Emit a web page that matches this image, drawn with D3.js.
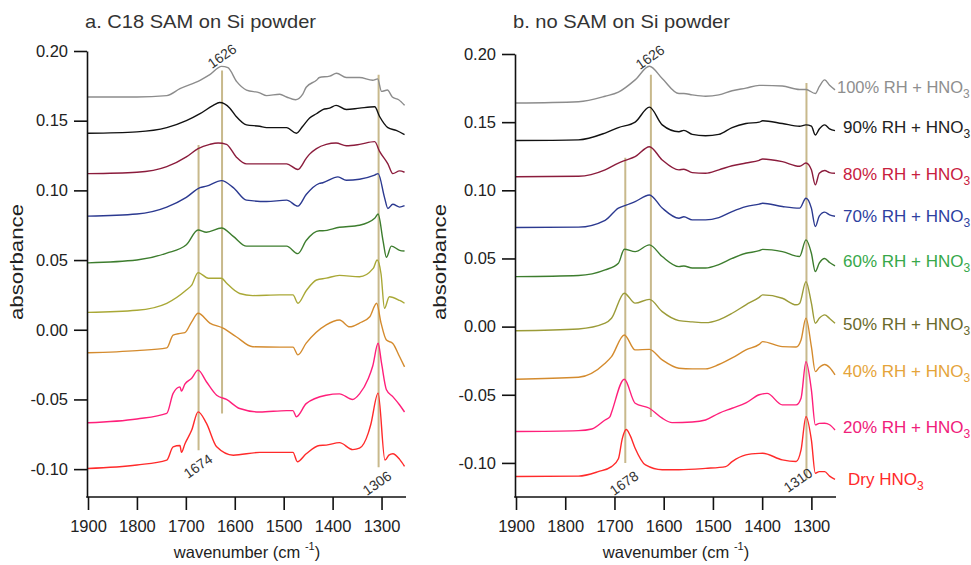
<!DOCTYPE html>
<html><head><meta charset="utf-8">
<script src="https://cdn.jsdelivr.net/npm/d3@7"></script>
<style>body{margin:0;background:#fff}svg text{font-family:"Liberation Sans",Arial,sans-serif}</style>
</head><body><svg id="chart" width="971" height="565"></svg>
<script>
// ---------- data ----------
const xTicks = [1900, 1800, 1700, 1600, 1500, 1400, 1300];
const yTicks = [-0.10, -0.05, 0, 0.05, 0.10, 0.15, 0.20];
const yTickLabels = ["-0.10", "-0.05", "0.00", "0.05", "0.10", "0.15", "0.20"];
const seriesLabels = ["100% RH + HNO", "90% RH + HNO", "80% RH + HNO", "70% RH + HNO", "60% RH + HNO", "50% RH + HNO", "40% RH + HNO", "20% RH + HNO", "Dry HNO"];

// panel a: C18 SAM on Si powder  [wavenumber, absorbance]
const a100 = [[1900,0.167],[1800,0.167],[1739,0.168],[1712,0.173],[1671,0.179],[1651,0.183],[1627,0.189],[1614,0.188],[1596,0.178],[1576,0.172],[1549,0.170],[1535,0.168],[1508,0.169],[1494,0.167],[1476,0.165],[1461,0.169],[1454,0.174],[1433,0.179],[1427,0.181],[1406,0.182],[1392,0.184],[1372,0.181],[1345,0.181],[1318,0.179],[1308,0.180],[1300,0.171],[1288,0.172],[1278,0.167],[1265,0.165],[1253,0.161]];
const a90 = [[1900,0.141],[1800,0.142],[1739,0.145],[1699,0.150],[1671,0.155],[1644,0.161],[1631,0.163],[1610,0.159],[1597,0.153],[1576,0.147],[1549,0.146],[1535,0.145],[1508,0.145],[1494,0.145],[1474,0.141],[1461,0.146],[1447,0.152],[1433,0.155],[1420,0.158],[1406,0.159],[1393,0.161],[1372,0.158],[1345,0.159],[1314,0.160],[1304,0.153],[1287,0.145],[1270,0.143],[1253,0.140]];
const a80 = [[1900,0.112],[1800,0.113],[1739,0.117],[1699,0.124],[1675,0.130],[1651,0.133],[1634,0.134],[1617,0.133],[1597,0.124],[1576,0.119],[1535,0.119],[1494,0.119],[1471,0.115],[1454,0.123],[1447,0.126],[1433,0.130],[1413,0.133],[1393,0.134],[1372,0.132],[1345,0.133],[1314,0.135],[1304,0.128],[1287,0.119],[1277,0.112],[1263,0.114],[1253,0.113]];
const a70 = [[1900,0.0815],[1800,0.083],[1739,0.088],[1699,0.095],[1671,0.102],[1658,0.103],[1627,0.107],[1603,0.102],[1576,0.093],[1535,0.092],[1494,0.093],[1471,0.0887],[1454,0.097],[1427,0.105],[1420,0.1055],[1389,0.1097],[1372,0.1073],[1345,0.108],[1314,0.111],[1307,0.112],[1294,0.095],[1287,0.087],[1277,0.090],[1263,0.088],[1253,0.089]];
const a60 = [[1900,0.048],[1800,0.050],[1739,0.055],[1699,0.061],[1675,0.0716],[1658,0.070],[1627,0.073],[1603,0.067],[1576,0.060],[1535,0.060],[1494,0.060],[1471,0.0546],[1454,0.064],[1427,0.071],[1420,0.071],[1386,0.0735],[1345,0.075],[1314,0.080],[1307,0.083],[1297,0.064],[1290,0.052],[1280,0.060],[1263,0.057],[1253,0.0565]];
const a50 = [[1900,0.0125],[1800,0.014],[1739,0.019],[1699,0.0285],[1688,0.032],[1675,0.041],[1654,0.037],[1627,0.037],[1617,0.0335],[1590,0.026],[1563,0.0245],[1508,0.025],[1481,0.025],[1471,0.019],[1454,0.028],[1433,0.0357],[1413,0.037],[1386,0.039],[1345,0.038],[1317,0.044],[1309,0.050],[1301,0.040],[1294,0.0154],[1284,0.0237],[1263,0.021],[1253,0.019]];
const a40 = [[1900,-0.0165],[1800,-0.015],[1739,-0.013],[1726,-0.0038],[1712,-0.0026],[1702,-0.002],[1688,0.0057],[1675,0.0118],[1651,0.0048],[1624,0.0012],[1597,-0.005],[1563,-0.0122],[1508,-0.0125],[1481,-0.0125],[1471,-0.018],[1454,-0.0096],[1413,0.0035],[1386,0.007],[1365,0.0021],[1345,0.0048],[1324,0.0093],[1310,0.019],[1301,0.0048],[1290,-0.0074],[1277,-0.0098],[1263,-0.0194],[1253,-0.0266]];
const a20 = [[1900,-0.0667],[1800,-0.064],[1739,-0.060],[1726,-0.0457],[1712,-0.041],[1709,-0.044],[1702,-0.039],[1688,-0.0348],[1675,-0.029],[1658,-0.0373],[1637,-0.047],[1617,-0.050],[1590,-0.0565],[1549,-0.059],[1494,-0.058],[1481,-0.058],[1474,-0.0624],[1454,-0.053],[1413,-0.047],[1386,-0.046],[1359,-0.050],[1345,-0.046],[1327,-0.035],[1318,-0.026],[1307,-0.0097],[1300,-0.024],[1290,-0.043],[1277,-0.048],[1263,-0.054],[1253,-0.059]];
const aDry = [[1900,-0.0995],[1800,-0.097],[1739,-0.0935],[1726,-0.084],[1712,-0.083],[1709,-0.088],[1702,-0.082],[1688,-0.072],[1675,-0.0589],[1658,-0.067],[1637,-0.084],[1603,-0.090],[1549,-0.088],[1494,-0.088],[1481,-0.088],[1472,-0.0947],[1454,-0.089],[1427,-0.083],[1413,-0.0828],[1386,-0.081],[1359,-0.086],[1345,-0.085],[1327,-0.074],[1322,-0.068],[1307,-0.0455],[1293,-0.0935],[1285,-0.090],[1277,-0.089],[1263,-0.093],[1253,-0.098]];

// panel b: no SAM on Si powder
const b100 = [[1900,0.164],[1773,0.165],[1719,0.169],[1692,0.172],[1658,0.181],[1629,0.191],[1603,0.182],[1569,0.171],[1559,0.171],[1542,0.170],[1515,0.169],[1488,0.170],[1461,0.173],[1433,0.175],[1406,0.177],[1399,0.177],[1359,0.1765],[1324,0.174],[1311,0.174],[1292,0.171],[1284,0.176],[1273,0.181],[1263,0.177],[1252,0.1737]];
const b90 = [[1900,0.1365],[1773,0.137],[1719,0.142],[1692,0.146],[1658,0.150],[1629,0.161],[1603,0.148],[1569,0.143],[1559,0.144],[1542,0.141],[1515,0.140],[1488,0.141],[1461,0.146],[1433,0.149],[1406,0.150],[1399,0.151],[1359,0.149],[1324,0.147],[1311,0.148],[1300,0.147],[1292,0.1406],[1284,0.145],[1273,0.148],[1263,0.145],[1252,0.1438]];
const b80 = [[1900,0.110],[1773,0.1103],[1719,0.115],[1692,0.120],[1678,0.122],[1658,0.1247],[1629,0.132],[1603,0.1223],[1569,0.115],[1559,0.1155],[1542,0.113],[1515,0.1125],[1488,0.115],[1461,0.118],[1433,0.120],[1406,0.122],[1399,0.123],[1359,0.121],[1324,0.1176],[1311,0.120],[1300,0.115],[1292,0.104],[1284,0.1125],[1273,0.1145],[1263,0.113],[1252,0.1125]];
const b70 = [[1900,0.0727],[1773,0.073],[1719,0.078],[1692,0.0869],[1675,0.0893],[1658,0.0917],[1629,0.0966],[1603,0.087],[1569,0.0795],[1559,0.0806],[1542,0.0783],[1515,0.0783],[1488,0.080],[1461,0.0844],[1433,0.088],[1406,0.0899],[1399,0.0905],[1359,0.0881],[1324,0.0869],[1311,0.0942],[1300,0.0869],[1292,0.0734],[1284,0.081],[1273,0.084],[1263,0.082],[1252,0.081]];
const b60 = [[1900,0.0367],[1773,0.0375],[1719,0.0416],[1692,0.0465],[1680,0.0568],[1658,0.055],[1629,0.060],[1603,0.0514],[1569,0.044],[1559,0.0445],[1542,0.043],[1515,0.043],[1488,0.0455],[1461,0.050],[1433,0.0538],[1406,0.0557],[1399,0.0567],[1359,0.055],[1324,0.0514],[1311,0.0636],[1300,0.0538],[1292,0.0404],[1284,0.0465],[1273,0.050],[1263,0.047],[1252,0.0445]];
const b50 = [[1900,-0.003],[1773,-0.0017],[1719,0.0025],[1706,0.0061],[1680,0.0245],[1658,0.0172],[1629,0.020],[1603,0.011],[1569,0.0044],[1542,0.0035],[1515,0.0029],[1488,0.005],[1461,0.0098],[1433,0.016],[1406,0.0215],[1399,0.0233],[1359,0.0208],[1331,0.016],[1324,0.017],[1311,0.033],[1300,0.0172],[1292,0.0025],[1284,0.0061],[1273,0.0086],[1263,0.006],[1252,0.0025]];
const b40 = [[1900,-0.0386],[1773,-0.0372],[1719,-0.0269],[1706,-0.022],[1680,-0.0061],[1658,-0.0171],[1629,-0.0167],[1603,-0.0244],[1569,-0.0305],[1542,-0.031],[1515,-0.031],[1488,-0.0278],[1461,-0.023],[1433,-0.0171],[1406,-0.013],[1399,-0.011],[1359,-0.0147],[1331,-0.015],[1321,-0.0098],[1311,0.0062],[1300,-0.0147],[1292,-0.033],[1284,-0.030],[1273,-0.0278],[1263,-0.030],[1252,-0.0354]];
const b20 = [[1900,-0.077],[1773,-0.0763],[1746,-0.0751],[1719,-0.0685],[1709,-0.066],[1706,-0.063],[1680,-0.0386],[1658,-0.0562],[1629,-0.0599],[1603,-0.0672],[1583,-0.0704],[1542,-0.070],[1515,-0.0685],[1488,-0.0636],[1461,-0.0599],[1433,-0.056],[1406,-0.050],[1390,-0.049],[1359,-0.0574],[1331,-0.0574],[1321,-0.0525],[1311,-0.0257],[1300,-0.0464],[1292,-0.0721],[1284,-0.071],[1273,-0.0709],[1263,-0.072],[1252,-0.0758]];
const bDry = [[1900,-0.110],[1773,-0.1097],[1733,-0.1064],[1706,-0.1027],[1692,-0.097],[1684,-0.082],[1676,-0.0755],[1668,-0.080],[1658,-0.0892],[1637,-0.1015],[1603,-0.105],[1569,-0.105],[1515,-0.104],[1474,-0.1027],[1461,-0.099],[1433,-0.0941],[1406,-0.093],[1399,-0.0929],[1359,-0.0978],[1331,-0.099],[1321,-0.0905],[1311,-0.066],[1300,-0.0831],[1292,-0.1076],[1284,-0.1064],[1273,-0.1064],[1263,-0.1097],[1252,-0.112]];

// marker lines: [wavenumber, top absorbance, bottom absorbance]
const aMarkers = [[1626,0.186,-0.060],[1674,0.1326,-0.0864],[1306,0.183,-0.0986]];
const bMarkers = [[1626,0.1847,-0.0663],[1678,0.1238,-0.100],[1310,0.1788,-0.1125]];
const aMarkerLabels = ["1626","1674","1306"];
const bMarkerLabels = ["1626","1678","1310"];

// ---------- styling ----------
const aColors = ["#8c8c8c","#111111","#8b1c3c","#2b3990","#3d7d2e","#a9a836","#d48b2e","#ff1f7a","#ff2a2a"];
const bColors = ["#8c8c8c","#111111","#8b1c3c","#2b3990","#3d7d2e","#9b9b38","#d48b2e","#ff1f7a","#ff2a2a"];
const labelColors = ["#8e8e8e","#222222","#c8203e","#2e3f9f","#37a84a","#6a6a2c","#e5a43a","#f0207a","#ff2a2a"];

const svg = d3.select("#chart");
const font = '"Liberation Sans", Arial, sans-serif';

function panel(cfg) {
  const x = d3.scaleLinear().domain([1900, 1250]).range([cfg.x0, cfg.x1]);
  const y = d3.scaleLinear().domain([0.20, cfg.yMin]).range([cfg.y0, cfg.y1]);
  const g = svg.append("g");

  // marker lines
  g.selectAll("line.mk").data(cfg.markers).join("line")
    .attr("x1", d => x(d[0])).attr("x2", d => x(d[0]))
    .attr("y1", d => y(d[1])).attr("y2", d => y(d[2]))
    .attr("stroke", "#c8b98c").attr("stroke-width", 2);

  const line = d3.line().x(d => x(d[0])).y(d => y(d[1])).curve(d3.curveMonotoneX);
  g.selectAll("path.sp").data(cfg.series).join("path")
    .attr("d", line).attr("fill", "none")
    .attr("stroke", (d, i) => cfg.colors[i]).attr("stroke-width", 1.4)
    .attr("stroke-linejoin", "round");

  // marker labels
  g.selectAll("text.ml").data(cfg.markers).join("text")
    .attr("transform", (d, i) => `translate(${cfg.labelPos[i][0]},${cfg.labelPos[i][1]}) rotate(-35)`)
    .attr("text-anchor", "middle").attr("dominant-baseline", "central")
    .attr("font-size", 14).attr("fill", "#333")
    .text((d, i) => cfg.markerLabels[i]);

  // axes
  const ya = g.append("g").attr("transform", `translate(${cfg.x0 - 1},0)`)
    .call(d3.axisLeft(y).tickValues(yTicks).tickFormat((d, i) => yTickLabels[i])
      .tickSize(13).tickPadding(6).tickSizeOuter(0));
  const xa = g.append("g").attr("transform", `translate(0,${cfg.y1})`)
    .call(d3.axisBottom(x).tickValues(xTicks).tickFormat(d3.format("d"))
      .tickSize(13).tickPadding(10).tickSizeOuter(0));
  [ya, xa].forEach(a => {
    a.selectAll("path,line").attr("stroke", "#111").attr("stroke-width", 1.6);
    a.selectAll("text").attr("font-size", 16.5).attr("fill", "#222").attr("font-family", font);
  });
  xa.select(".domain").attr("d", `M${cfg.x0 - 1.8},0H${cfg.x1}`);

  // titles
  svg.append("text").attr("x", cfg.titleX).attr("y", 28).attr("font-size", 19)
    .attr("textLength", cfg.titleLen).attr("lengthAdjust", "spacingAndGlyphs")
    .attr("fill", "#333").text(cfg.title);
  svg.append("text").attr("transform", `translate(${cfg.yLabelX},262) rotate(-90)`)
    .attr("text-anchor", "middle").attr("font-size", 18).attr("fill", "#222")
    .attr("textLength", 116).attr("lengthAdjust", "spacingAndGlyphs").text("absorbance");
  const xl = svg.append("text").attr("x", cfg.xLabelX).attr("y", 558)
    .attr("text-anchor", "middle").attr("font-size", 16.5).attr("fill", "#222");
  xl.append("tspan").text("wavenumber (cm ");
  xl.append("tspan").attr("dy", -8).attr("font-size", 11).text("-1");
  xl.append("tspan").attr("dy", 8).text(")");
  return {x, y};
}

panel({x0: 88, x1: 406, y0: 51, y1: 497, yMin: -0.12,
  series: [a100, a90, a80, a70, a60, a50, a40, a20, aDry], colors: aColors,
  markers: aMarkers, markerLabels: aMarkerLabels,
  labelPos: [[222, 56], [198, 466], [377, 483]],
  title: "a. C18 SAM on Si powder", titleX: 85, titleLen: 231, yLabelX: 23, xLabelX: 247});

panel({x0: 516, x1: 836, y0: 54, y1: 497, yMin: -0.125,
  series: [b100, b90, b80, b70, b60, b50, b40, b20, bDry], colors: bColors,
  markers: bMarkers, markerLabels: bMarkerLabels,
  labelPos: [[650, 57], [624, 483], [798, 480]],
  title: "b. no SAM on Si powder", titleX: 513, titleLen: 217, yLabelX: 446, xLabelX: 676});

// series labels (right side)
const labelBase = [92.5, 133, 180, 222, 267, 330, 377, 433, 485];
const labelX = [837, 843, 843, 843, 843, 843, 843, 843, 848];
const labelSize = [16.5, 17, 17, 17, 17, 17, 17, 17, 17];
seriesLabels.forEach((s, i) => {
  const t = svg.append("text").attr("x", labelX[i]).attr("y", labelBase[i])
    .attr("font-size", labelSize[i]).attr("fill", labelColors[i]);
  t.append("tspan").text(s);
  t.append("tspan").attr("dy", 5).attr("font-size", 12).text("3");
});
</script></body></html>
